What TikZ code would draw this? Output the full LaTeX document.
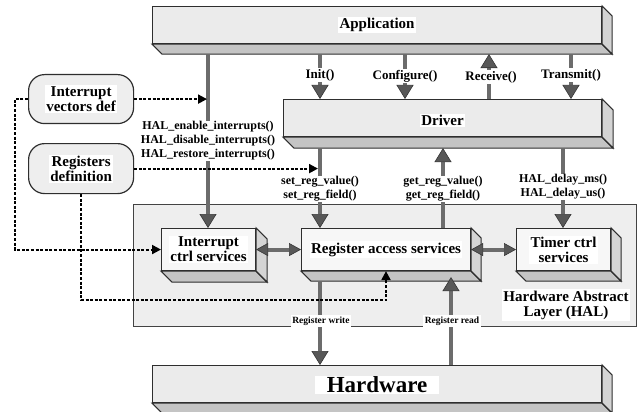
\documentclass[tikz,border=0pt]{standalone}
\usepackage{fontspec}
\setmainfont{Liberation Serif}
\usetikzlibrary{arrows.meta}

\definecolor{shaft}{HTML}{6C6C6C}
\definecolor{headfill}{HTML}{585858}
\definecolor{headline}{HTML}{363636}
\definecolor{edge}{HTML}{2E2E2E}
\definecolor{bigfront}{HTML}{EBEBEB}
\definecolor{smallfront}{HTML}{F7F7F7}
\definecolor{botface}{HTML}{C4C4C4}
\definecolor{sideface}{HTML}{D4D4D4}
\definecolor{halfill}{HTML}{EEEEEE}

\tikzset{
  bigtip/.tip={Triangle[width=17pt,length=14pt,line width=0.6pt,color=headline,fill=headfill]},
  midtip/.tip={Triangle[width=13pt,length=12pt,line width=0.6pt,color=headline,fill=headfill]},
  deftip/.tip={Triangle[width=9pt,length=9pt]},
  face/.style={draw=edge, line width=1.1pt, line join=miter},
  bigslab/.style={face, fill=bigfront, inner sep=0pt, anchor=north west},
  smallslab/.style={face, fill=smallfront, inner sep=0pt, anchor=north west},
  boxtext/.style={fill=white, inner sep=1.2pt, align=center,
    font=\fontsize{15}{15}\selectfont\bfseries},
  fnlabel/.style={fill=white, inner sep=1pt, align=center,
    font=\fontsize{12}{14}\selectfont\bfseries},
  apilabel/.style={fill=white, inner sep=1pt,
    font=\fontsize{13}{14}\selectfont\bfseries},
  buslabel/.style={fill=white, inner sep=1.5pt,
    font=\fontsize{9.5}{10}\selectfont\bfseries},
  flow/.style={draw=shaft, line width=4.5pt, -bigtip},
  flowboth/.style={draw=shaft, line width=4pt, midtip-midtip},
  defarrow/.style={draw=black, line width=2pt, dash pattern=on 3pt off 1.6pt, -deftip},
  defbox/.style={draw=edge, line width=1.2pt, fill=halfill, rounded corners=16pt,
    anchor=north west, inner sep=0pt},
  halbox/.style={draw=edge!90, line width=1pt, fill=halfill, anchor=north west, inner sep=0pt},
}

% bottom and side faces of an extruded slab whose front face is node #1
\newcommand\slabdepth[2]{%
  \filldraw[face, fill=botface] (#1.south west) -- (#1.south east)
    -- ([shift={(#2,#2)}]#1.south east) -- ([shift={(#2,#2)}]#1.south west) -- cycle;
  \filldraw[face, fill=sideface] (#1.north east) -- ([shift={(#2,#2)}]#1.north east)
    -- ([shift={(#2,#2)}]#1.south east) -- (#1.south east) -- cycle;
  \coordinate (#1-b) at ([shift={(0,#2)}]#1.south);
}

\begin{document}
\begin{tikzpicture}[x=1pt, y=-1pt]
\useasboundingbox (0,0) rectangle (638,412);

% HAL container
\node[halbox, minimum width=503pt, minimum height=122pt] (hal) at (133,204) {};

% slabs
\node[bigslab, minimum width=449pt, minimum height=37pt] (app) at (152,6) {};
\slabdepth{app}{10}
\node[bigslab, minimum width=318pt, minimum height=37pt] (drv) at (283,99) {};
\slabdepth{drv}{11}
\node[bigslab, minimum width=449pt, minimum height=37pt] (hw) at (152,365) {};
\slabdepth{hw}{10}
\node[smallslab, minimum width=94pt, minimum height=42pt] (ictrl) at (161,228) {};
\slabdepth{ictrl}{11}
\node[smallslab, minimum width=169pt, minimum height=42pt] (regacc) at (301,228) {};
\slabdepth{regacc}{10}
\node[smallslab, minimum width=94pt, minimum height=42pt] (timer) at (516,228) {};
\slabdepth{timer}{10}

\node[boxtext] (app-l) at (app) {Application};
\node[boxtext] (drv-l) at ([yshift=-2pt]drv.center) {Driver};
\node[boxtext, inner xsep=12pt, font=\fontsize{23}{23}\selectfont\bfseries] (hw-l) at ([yshift=-1pt]hw.center) {Hardware};
\node[boxtext] (ictrl-l) at (ictrl) {Interrupt\\ctrl services};
\node[boxtext] (regacc-l) at (regacc) {Register access services};
\node[boxtext] (timer-l) at (timer) {Timer ctrl\\services};
\node[boxtext] (hal-l) at (566,305) {Hardware Abstract\\Layer (HAL)};

% definition boxes
\node[defbox, minimum width=105pt, minimum height=49pt] (ivec) at (28,74) {};
\node[boxtext] (ivec-l) at (ivec) {Interrupt\\vectors def};
\node[defbox, minimum width=105pt, minimum height=50pt] (regdef) at (28,143) {};
\node[boxtext] (regdef-l) at (regdef) {Registers\\definition};

% connector columns
\coordinate (cInt) at (208,0);
\coordinate (cInit) at (320,0);
\coordinate (cConf) at (405,0);
\coordinate (cRecv) at (489,0);
\coordinate (cTx) at (571,0);
\coordinate (cGet) at (443,0);
\coordinate (cDly) at (563,0);
\coordinate (cRd) at (451,0);
\coordinate (cDef) at (386,0);

% application <-> driver
\draw[flow] (cInit |- app-b) -- (cInit |- drv.north);
\draw[flow] (cConf |- app-b) -- (cConf |- drv.north);
\draw[flow] (cRecv |- drv.north) -- (cRecv |- app-b);
\draw[flow] (cTx |- app-b) -- (cTx |- drv.north);

% application -> interrupt services
\draw[flow] (cInt |- app-b) -- (cInt |- ictrl.north);

% driver <-> HAL services
\draw[flow] (cInit |- drv-b) -- (cInit |- regacc.north);
\draw[flow] (cGet |- regacc.north) -- (cGet |- drv-b);
\draw[flow] (cDly |- drv-b) -- (cDly |- timer.north);

% inside the HAL
\draw[flowboth] (ictrl.east) -- (regacc.west);
\draw[flowboth] (regacc.east) -- (timer.west);

% HAL <-> hardware
\draw[flow] (cInit |- regacc-b) -- (cInit |- hw.north);
\draw[flow] (cRd |- hw.north) -- ([yshift=4pt]cRd |- regacc-b);

% definition links
\draw[defarrow] (ivec.east) -- ([xshift=-1pt]cInt |- ivec.east);
\draw[defarrow] (ivec.west) -- ++(-13,0) |- (ictrl.west);
\draw[defarrow] (regdef.east) -- ([xshift=-2pt]cInit |- regdef.east);
\draw[defarrow] (regdef.south) -- ++(0,106) -| (cDef |- regacc.south);

% call labels
\node[apilabel] (l-init) at (320,75) {Init()};
\node[apilabel] (l-conf) at (405,76) {Configure()};
\node[apilabel] (l-recv) at (491,77) {Receive()};
\node[apilabel] (l-tx) at (571,75) {Transmit()};
\node[fnlabel] (l-int) at (208,141) {HAL\_enable\_interrupts()\\HAL\_disable\_interrupts()\\HAL\_restore\_interrupts()};
\node[fnlabel] (l-set) at (320,189) {set\_reg\_value()\\set\_reg\_field()};
\node[fnlabel] (l-get) at (443,189) {get\_reg\_value()\\get\_reg\_field()};
\node[fnlabel] (l-dly) at (563,187) {HAL\_delay\_ms()\\HAL\_delay\_us()};
\node[buslabel] (l-wr) at (321,321) {Register write};
\node[buslabel] (l-rd) at (452,321) {Register read};
\end{tikzpicture}
\end{document}
